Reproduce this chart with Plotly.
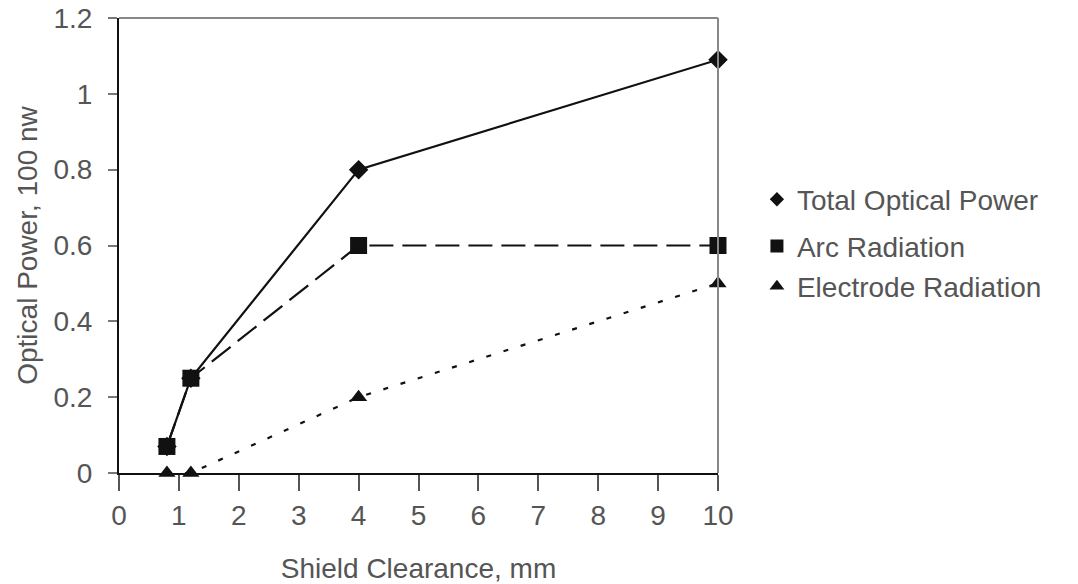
import plotly.graph_objects as go

# Shield clearance (mm) and measured optical power (units of 100 nW)
clearance = [0.8, 1.2, 4, 10]
total_power = [0.07, 0.25, 0.8, 1.09]
arc_radiation = [0.07, 0.25, 0.6, 0.6]
electrode_radiation = [0.0, 0.0, 0.2, 0.5]

series_names = ["Total Optical Power", "Arc Radiation", "Electrode Radiation"]
x_ticks = list(range(0, 11))
y_ticks = [0, 0.2, 0.4, 0.6, 0.8, 1.0, 1.2]
y_tick_text = ["0", "0.2", "0.4", "0.6", "0.8", "1", "1.2"]

FONT = "Liberation Sans, Arial, sans-serif"
INK = "#111111"
TEXT = "#555555"
FS = 28

fig = go.Figure()

styles = [
    dict(symbol="diamond", size=15, legend_size=11, dash="solid"),
    dict(symbol="square", size=17, legend_size=13, dash="24px,9px"),
    dict(symbol="triangle-up", size=15, legend_size=13, dash="5px,13px"),
]
values = [total_power, arc_radiation, electrode_radiation]

for name, ys, st in zip(series_names, values, styles):
    fig.add_trace(go.Scatter(
        x=clearance, y=ys, mode="lines+markers", name=name,
        line=dict(color=INK, width=2.2, dash=st["dash"]),
        marker=dict(symbol=st["symbol"], size=st["size"], color=INK),
        cliponaxis=False, showlegend=False,
    ))

# Marker-only legend entries, each in its own legend box
legend_rows = [0.601, 0.498, 0.41]
legend_keys = ["legend", "legend2", "legend3"]
for name, st, key in zip(series_names, styles, legend_keys):
    fig.add_trace(go.Scatter(
        x=[None], y=[None], mode="markers", name=name,
        marker=dict(symbol=st["symbol"], size=st["legend_size"], color=INK),
        legend=key, showlegend=True,
    ))

legend_common = dict(
    x=1.065, xanchor="left", yanchor="middle",
    font=dict(family=FONT, size=FS, color=TEXT),
    bgcolor="rgba(0,0,0,0)", itemwidth=30,
)
layout_legends = {key: dict(y=yy, **legend_common)
                  for key, yy in zip(legend_keys, legend_rows)}

fig.update_layout(
    width=1078, height=584,
    margin=dict(l=119, r=360, t=18, b=111, autoexpand=False),
    paper_bgcolor="white", plot_bgcolor="white",
    font=dict(family=FONT, size=FS, color=TEXT),
    xaxis=dict(
        range=[0, 10], tickvals=x_ticks, ticks="outside", ticklen=16,
        tickcolor="#555555", tickwidth=1.5, automargin=False,
        showline=True, linecolor=INK, linewidth=2, showgrid=False, zeroline=False,
        tickfont=dict(family=FONT, size=FS, color=TEXT),
        title=dict(text="Shield Clearance, mm", standoff=35,
                   font=dict(family=FONT, size=FS, color=TEXT)),
    ),
    yaxis=dict(
        range=[0, 1.2], tickvals=y_ticks, ticktext=y_tick_text,
        ticks="outside", ticklen=9, tickcolor="#777777", tickwidth=1.5,
        ticklabelstandoff=10, automargin=False,
        showline=True, linecolor=INK, linewidth=2, showgrid=False, zeroline=False,
        tickfont=dict(family=FONT, size=FS, color=TEXT),
        title=dict(text="Optical Power, 100 nw", standoff=8,
                   font=dict(family=FONT, size=FS, color=TEXT)),
    ),
    shapes=[
        dict(type="line", xref="paper", yref="paper", x0=0, x1=1, y0=1, y1=1,
             line=dict(color="#888888", width=2)),
        dict(type="line", xref="paper", yref="paper", x0=1, x1=1, y0=0, y1=1,
             line=dict(color="#888888", width=2)),
    ],
    **layout_legends,
)

fig.write_html("out.html")
